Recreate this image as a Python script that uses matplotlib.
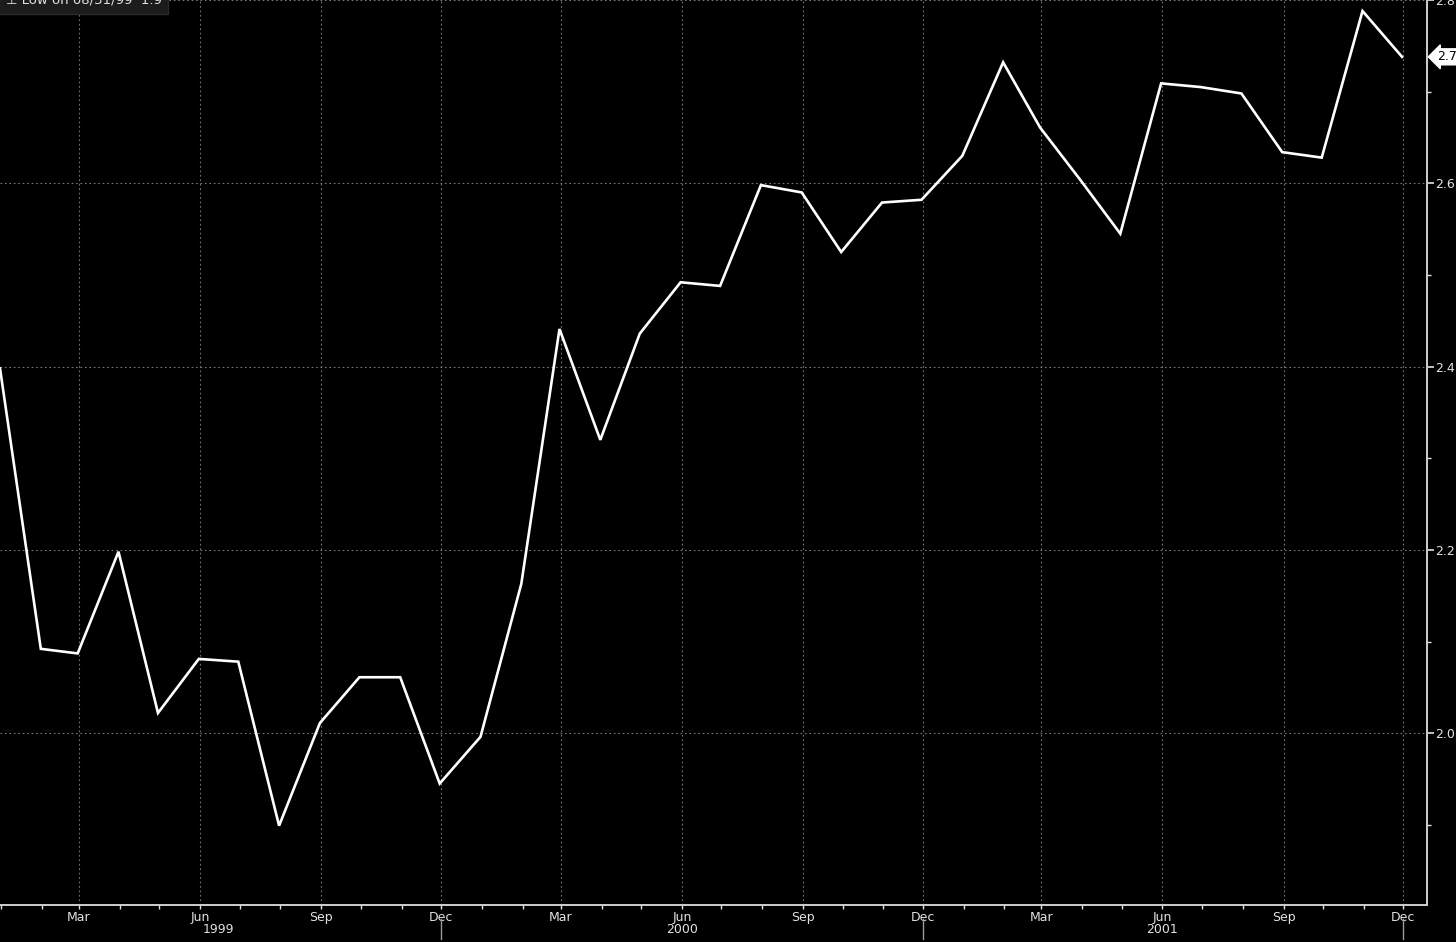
import matplotlib
matplotlib.use("Agg")
import matplotlib.pyplot as plt
import matplotlib.dates as mdates
import pandas as pd

# data: month-end values, Dec 1998 - Nov 2001
dates = pd.date_range("1998-12-31", periods=36, freq="ME")
values = [2.398, 2.092, 2.087, 2.198, 2.022, 2.081, 2.078, 1.899, 2.011, 2.061,
          2.061, 1.945, 1.996, 2.163, 2.441, 2.320, 2.436, 2.492, 2.488, 2.598,
          2.590, 2.525, 2.579, 2.582, 2.630, 2.732, 2.661, 2.603, 2.545, 2.709,
          2.705, 2.698, 2.634, 2.628, 2.788, 2.738]
y_major = [2.0, 2.2, 2.4, 2.6, 2.8]
y_minor = [1.9, 2.1, 2.3, 2.5, 2.7]
year_labels = ["1999", "2000", "2001"]
year_pos = ["1999-06-15", "2000-06-01", "2001-06-01"]
year_seps = ["1999-12-01", "2000-12-01", "2001-12-01"]
low_text = "\u22a5 Low on 08/31/99  1.9"
last_text = "2.7"

txt = "#e2e2e2"
gridc = "#777777"

fig = plt.figure(figsize=(14.56, 9.42), dpi=100, facecolor="black")
ax = fig.add_axes([0.0, 0.0393, 0.9801, 0.9607], facecolor="black")

ax.plot(dates, values, color="white", lw=1.9, solid_joinstyle="miter", zorder=3)

ax.set_xlim(pd.Timestamp("1998-12-31"), pd.Timestamp("2001-12-19"))
ax.set_ylim(1.8125, 2.799)

# spines
for s in ["left", "top"]:
    ax.spines[s].set_visible(False)
for s in ["bottom", "right"]:
    ax.spines[s].set_color("#cfcfcf")
    ax.spines[s].set_linewidth(1.4)

# y axis on the right
ax.yaxis.tick_right()
ax.set_yticks(y_major)
ax.set_yticks(y_minor, minor=True)
ax.set_yticklabels([f"{v:.1f}" for v in y_major])
ax.tick_params(axis="y", which="major", colors=txt, length=5, width=1.2, labelsize=9, pad=1)
ax.tick_params(axis="y", which="minor", colors=txt, length=3, width=1)

# x axis: quarters labelled, monthly minor ticks
ax.xaxis.set_major_locator(mdates.MonthLocator(bymonth=[3, 6, 9, 12]))
ax.xaxis.set_major_formatter(mdates.DateFormatter("%b"))
ax.xaxis.set_minor_locator(mdates.MonthLocator())
ax.tick_params(axis="x", which="major", colors=txt, length=3, width=1, labelsize=9, pad=1)
ax.tick_params(axis="x", which="minor", colors=txt, length=3, width=1)

ax.grid(True, which="major", color=gridc, linestyle=(0, (1.5, 2.5)), linewidth=0.8)

# year labels and separators under the axis
for lab, pos in zip(year_labels, year_pos):
    ax.text(pd.Timestamp(pos), -0.020, lab, transform=ax.get_xaxis_transform(),
            ha="center", va="top", color=txt, fontsize=9, clip_on=False)
for pos in year_seps:
    ax.plot([pd.Timestamp(pos)] * 2, [-0.015, -0.038], transform=ax.get_xaxis_transform(),
            color="#9a9a9a", lw=1, clip_on=False)

# legend box (cut at top)
ax.text(0.004, 0.9995, low_text, transform=ax.transAxes, ha="left", va="center",
        color="#e0e0e0", fontsize=9.5,
        bbox=dict(boxstyle="square,pad=0.5", fc="#1c1c1c", ec="#2a2a2a"))

# last value tag
ax.annotate(last_text, xy=(1.0, values[-1]), xycoords=("axes fraction", "data"),
            xytext=(7, 0), textcoords="offset points", ha="left", va="center",
            color="black", fontsize=9,
            bbox=dict(boxstyle="larrow,pad=0.12", fc="white", ec="white"))

fig.savefig("out.png", dpi=100, facecolor="black")
